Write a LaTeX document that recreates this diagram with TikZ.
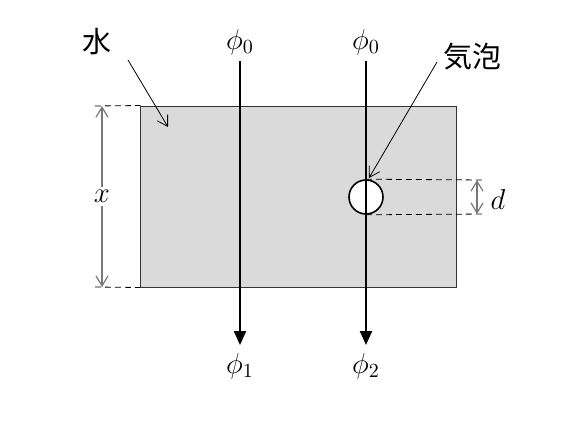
\documentclass[tikz,border=0pt]{standalone}
\usepackage{fontspec}
\newfontfamily\jpfont{Noto Sans CJK JP}
\usetikzlibrary{positioning}
\usetikzlibrary{arrows.meta}
\definecolor{watergray}{RGB}{218,218,218}
\definecolor{dimgray}{RGB}{120,120,120}
\tikzset{
  beam/.style={line width=1.1pt, -{Triangle[length=7pt,width=6pt]}},
  pointer/.style={line width=0.4pt, -{Straight Barb[length=5pt,width=6pt]}},
  dimline/.style={line width=0.6pt, color=dimgray, {Straight Barb[length=5pt,width=6pt]}-{Straight Barb[length=5pt,width=6pt]}},
  helper/.style={line width=0.4pt, dash pattern=on 3pt off 2pt},
  jplabel/.style={font=\jpfont\fontsize{14.5}{16}\selectfont},
  sym/.style={font=\fontsize{14}{16}\selectfont},
}
\begin{document}
\begin{tikzpicture}[x=0.5pt,y=-0.5pt]
\useasboundingbox (0,0) rectangle (570,435);

% water tank
\node[draw=black!80, line width=0.5pt, fill=watergray, minimum width=158pt, minimum height=90.5pt, inner sep=0pt] (water) at (299,196.5) {};
% bubble
\node[circle, draw, line width=0.8pt, fill=white, minimum size=17pt, inner sep=0pt] (bubble) at (366,197) {};

% beams
\node[sym] (in1) at (240,42) {$\phi_0$};
\node[sym] (in2) at (366,42) {$\phi_0$};
\node[sym] (out1) at (240,366) {$\phi_1$};
\node[sym] (out2) at (366,366) {$\phi_2$};
\coordinate (s1) at (240,61);
\coordinate (e1) at (240,345);
\coordinate (s2) at (366,61);
\coordinate (e2) at (366,345);
\draw[beam] (s1) -- (e1);
\draw[beam] (s2) -- (e2);

% thickness x
\coordinate (xt) at (95,106);
\coordinate (xb) at (95,287);
\draw[helper] (xt) -- (water.north west);
\draw[helper] (xb) -- (water.south west);
\coordinate (xat) at (102,106);
\coordinate (xab) at (102,287);
\draw[dimline] (xat) -- (xab) node[midway, sym, fill=white, inner sep=1.5pt, text=black] (xlab) {$x$};

% bubble size d
\coordinate (dt) at (485,180);
\coordinate (db) at (485,214);
\draw[helper] (bubble.north) -- (dt);
\draw[helper] (bubble.south) -- (db);
\coordinate (dat) at (477,180);
\coordinate (dab) at (477,214);
\draw[dimline] (dat) -- (dab);
\node[sym] (dlab) at (498,199) {$d$};

% labels
\node[jplabel] (waterlab) at (97,42) {水};
\node[jplabel] (bubblelab) at (473,57) {気泡};
\coordinate (wp) at (168,127);
\coordinate (bp) at (369,178);
\draw[pointer] (128,60) -- (wp);
\draw[pointer] (437,62) -- (bp);
\end{tikzpicture}
\end{document}
